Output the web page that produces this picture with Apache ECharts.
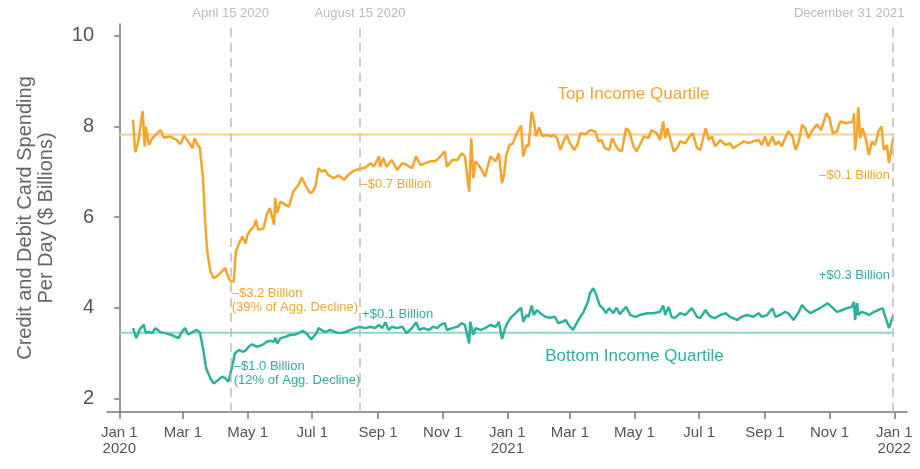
<!DOCTYPE html>
<html>
<head>
<meta charset="utf-8">
<script src="https://cdn.jsdelivr.net/npm/echarts@6/dist/echarts.min.js"></script>
<style>
html, body { margin: 0; padding: 0; background: #fff; }
#main { width: 920px; height: 469px; }
</style>
</head>
<body>
<div id="main"></div>
<script>
// [days since Jan 1 2020, spending per day ($ billions)]
var topIncome = [
  [13,8.15],[15,7.43],[18,7.67],[22,8.34],[24,7.56],[25,8.00],[28,7.59],[31,7.74],[36,7.85],[39,7.92],
  [42,7.75],[48,7.78],[54,7.70],[58,7.61],[61,7.80],[65,7.67],[69,7.52],[71,7.74],[74,7.59],[76,7.52],
  [79,6.86],[81,5.90],[83,5.24],[86,4.80],[89,4.65],[92,4.69],[95,4.76],[100,4.88],[102,4.72],[105,4.58],
  [108,4.58],[110,5.24],[113,5.42],[116,5.57],[119,5.42],[121,5.61],[124,5.72],[127,5.79],[129,5.94],[131,5.72],
  [136,5.75],[139,6.05],[142,6.20],[146,5.83],[147,6.42],[149,6.09],[152,6.34],[157,6.27],[160,6.23],[164,6.56],
  [169,6.71],[172,6.87],[177,6.64],[180,6.53],[182,6.55],[185,6.67],[188,7.08],[191,7.00],[194,7.04],[197,6.93],
  [202,6.86],[207,6.92],[212,6.82],[216,6.93],[221,7.02],[226,7.06],[232,7.09],[237,7.19],[240,7.11],[245,7.34],
  [246,7.11],[249,7.30],[252,7.11],[257,7.26],[262,7.04],[267,7.19],[271,7.15],[276,7.08],[280,7.34],[284,7.15],
  [289,7.19],[293,7.23],[298,7.23],[303,7.34],[307,7.45],[309,7.11],[314,7.26],[319,7.26],[323,7.41],[326,7.34],
  [330,6.56],[332,7.74],[334,6.86],[336,7.23],[341,7.08],[345,6.89],[350,7.34],[355,7.23],[358,7.41],[361,6.75],
  [363,6.95],[365,7.37],[368,7.59],[371,7.62],[375,7.85],[379,8.02],[381,7.34],[384,7.59],[386,7.56],[389,8.32],
  [391,8.15],[393,7.78],[396,7.98],[399,7.78],[403,7.81],[407,7.78],[410,7.81],[413,7.74],[416,7.48],[419,7.67],
  [422,7.81],[425,7.63],[429,7.48],[432,7.59],[435,7.85],[440,7.83],[444,7.92],[449,7.89],[452,7.67],[455,7.70],
  [458,7.52],[462,7.48],[465,7.74],[468,7.59],[471,7.48],[474,7.45],[478,7.96],[481,7.89],[485,7.56],[488,7.45],
  [491,7.59],[495,7.78],[499,7.74],[502,7.92],[507,7.85],[510,7.70],[513,8.11],[515,7.74],[517,7.96],[520,7.70],
  [523,7.45],[526,7.52],[529,7.67],[534,7.63],[538,7.78],[541,7.85],[545,7.52],[548,7.48],[553,7.96],[556,7.70],
  [559,7.78],[562,7.56],[567,7.70],[572,7.59],[576,7.63],[579,7.52],[584,7.59],[589,7.67],[594,7.63],[598,7.67],
  [603,7.70],[606,7.59],[609,7.78],[612,7.56],[616,7.78],[619,7.59],[622,7.67],[625,7.56],[628,7.74],[631,7.89],
  [635,7.78],[638,7.48],[641,7.67],[644,8.04],[647,7.96],[650,7.74],[653,7.89],[658,8.04],[662,7.92],[667,8.29],
  [670,8.18],[673,7.85],[677,7.89],[680,8.11],[686,8.07],[692,8.11],[693,8.29],[694,7.48],[696,7.89],[697,8.42],
  [699,7.74],[701,7.96],[704,7.74],[707,7.37],[710,7.67],[713,7.59],[716,7.89],[719,8.00],[721,7.48],[724,7.59],
  [726,7.19],[728,7.48],[730,7.74]
];
var bottomIncome = [
  [13,3.55],[16,3.33],[19,3.51],[23,3.63],[25,3.44],[28,3.47],[31,3.44],[34,3.55],[39,3.46],[43,3.44],
  [48,3.41],[53,3.36],[56,3.33],[59,3.47],[62,3.55],[65,3.41],[69,3.46],[73,3.51],[76,3.46],[79,3.10],
  [82,2.66],[86,2.44],[89,2.33],[93,2.40],[97,2.48],[100,2.44],[103,2.37],[106,2.66],[109,2.99],[113,3.07],
  [116,3.03],[119,3.05],[122,3.14],[125,3.19],[130,3.14],[135,3.18],[139,3.25],[143,3.27],[146,3.25],[147,3.34],
  [149,3.21],[152,3.33],[157,3.36],[161,3.40],[166,3.41],[171,3.46],[173,3.49],[177,3.42],[181,3.30],[186,3.44],
  [188,3.55],[194,3.46],[199,3.51],[204,3.46],[208,3.44],[213,3.46],[218,3.51],[223,3.55],[227,3.58],[232,3.55],
  [237,3.58],[241,3.55],[245,3.62],[248,3.55],[251,3.68],[254,3.51],[257,3.58],[262,3.55],[267,3.58],[271,3.44],
  [276,3.55],[280,3.68],[283,3.51],[287,3.55],[292,3.51],[296,3.58],[300,3.55],[303,3.62],[307,3.66],[309,3.51],
  [314,3.55],[319,3.58],[323,3.66],[326,3.62],[330,3.21],[331,3.69],[334,3.40],[336,3.55],[341,3.51],[345,3.55],
  [350,3.62],[355,3.58],[358,3.69],[361,3.31],[364,3.55],[366,3.66],[370,3.80],[375,3.91],[379,4.00],[381,3.69],
  [384,3.84],[386,3.80],[389,4.05],[391,3.84],[394,3.95],[397,3.88],[402,3.80],[406,3.78],[411,3.80],[414,3.66],
  [418,3.69],[421,3.73],[424,3.62],[428,3.51],[433,3.73],[438,3.91],[442,4.13],[444,4.32],[447,4.43],[450,4.28],
  [453,4.06],[456,3.99],[459,3.88],[462,3.99],[466,3.88],[469,4.00],[472,3.86],[478,4.02],[482,3.84],[487,3.80],
  [491,3.84],[498,3.88],[504,3.88],[510,3.91],[513,4.05],[515,3.84],[518,4.02],[521,3.80],[524,3.77],[529,3.88],
  [534,3.84],[540,3.99],[545,3.80],[548,3.77],[553,3.95],[556,3.84],[558,3.80],[562,3.77],[567,3.84],[572,3.88],
  [576,3.80],[583,3.73],[587,3.80],[592,3.84],[598,3.80],[603,3.88],[606,3.80],[611,3.84],[616,3.99],[619,3.80],
  [623,3.84],[628,3.91],[631,3.88],[636,3.73],[641,3.91],[644,4.06],[648,3.95],[652,3.88],[656,3.93],[661,3.99],
  [668,4.10],[672,4.02],[677,3.91],[682,3.95],[686,3.99],[691,4.02],[693,4.13],[694,3.73],[696,4.10],[697,3.84],
  [700,3.91],[704,3.88],[707,3.84],[712,3.91],[716,3.95],[720,3.99],[723,3.77],[726,3.55],[728,3.69],[730,3.84]
];
// January 2020 averages
var baselineTop = 7.82;
var baselineBottom = 3.45;

// x axis: days since Jan 1 2020
var tickDays = [0, 60, 121, 182, 244, 305, 366, 425, 486, 547, 609, 670, 731];
var tickLabels = ['Jan 1\n2020', 'Mar 1', 'May 1', 'Jul 1', 'Sep 1', 'Nov 1', 'Jan 1\n2021',
                  'Mar 1', 'May 1', 'Jul 1', 'Sep 1', 'Nov 1', 'Jan 1\n2022'];
var yTicks = [2, 4, 6, 8, 10];
var eventDays = [105, 227, 730];
var eventLabels = ['April 15 2020', 'August 15 2020', 'December 31 2021'];

var ORANGE = '#F6A52B', TEAL = '#2BB29D';

var labelOf = {};
tickDays.forEach(function (d, i) { labelOf[d] = tickLabels[i]; });

function note(d, v, text, color, align, size) {
    return {
        coord: [d, v],
        label: { formatter: text, color: color, align: align, fontSize: size || 13 }
    };
}

var myChart = echarts.init(document.getElementById('main'));
myChart.setOption({
    animation: false,
    textStyle: { fontFamily: 'Liberation Sans, Arial, sans-serif' },
    grid: { left: 107, right: 13, top: 24, bottom: 57 },
    xAxis: {
        type: 'value',
        min: -11.6,
        max: 743,
        splitLine: { show: false },
        axisLine: { lineStyle: { color: '#777', width: 1.5 } },
        axisTick: { show: true, length: 7, lineStyle: { color: '#777', width: 1.5 },
                    customValues: tickDays },
        axisLabel: {
            customValues: tickDays,
            formatter: function (v) { return labelOf[v] || ''; },
            color: '#555', fontSize: 15, lineHeight: 16, margin: 13
        }
    },
    yAxis: {
        type: 'value',
        min: 1.7,
        max: 10.26,
        name: 'Credit and Debit Card Spending\nPer Day ($ Billions)',
        nameLocation: 'middle',
        nameGap: 50,
        nameTextStyle: { color: '#666', fontSize: 20, lineHeight: 21 },
        splitLine: { show: false },
        axisLine: { show: true, lineStyle: { color: '#777', width: 1.5 } },
        axisTick: { show: true, length: 5, lineStyle: { color: '#777', width: 1.5 },
                    customValues: yTicks },
        axisLabel: { customValues: yTicks, color: '#555', fontSize: 20, margin: 13 }
    },
    series: [
        {   // 基准线（顶部）
            type: 'line', z: 1, silent: true, showSymbol: false,
            data: [[0, baselineTop], [730, baselineTop]],
            lineStyle: { color: '#FBCD92', width: 2 },
            markLine: {
                silent: true, symbol: ['none', 'none'],
                lineStyle: { color: '#bdbdbd', type: [9, 6], width: 1.5 },
                label: { position: 'end', color: '#bbb', fontSize: 13, distance: 4 },
                data: eventDays.map(function (d, i) {
                    var item = { xAxis: d, label: { formatter: eventLabels[i] } };
                    if (i === eventDays.length - 1) item.label.offset = [-44, 0];
                    return item;
                })
            }
        },
        {   // 基准线（底部）
            type: 'line', z: 1, silent: true, showSymbol: false,
            data: [[0, baselineBottom], [730, baselineBottom]],
            lineStyle: { color: '#8FD6C9', width: 2 }
        },
        {
            name: 'Top Income Quartile',
            type: 'line', z: 3, showSymbol: false,
            data: topIncome,
            lineStyle: { color: ORANGE, width: 2.5 },
            itemStyle: { color: ORANGE },
            markPoint: {
                symbol: 'rect', symbolSize: 1, silent: true,
                itemStyle: { color: 'rgba(0,0,0,0)' },
                label: { show: true, position: 'inside', verticalAlign: 'middle', lineHeight: 14 },
                data: [
                    note(485, 8.70, 'Top Income Quartile', ORANGE, 'center', 17),
                    note(227.5, 6.73, '–$0.7 Billion', ORANGE, 'left'),
                    note(106, 4.17, '–$3.2 Billion\n(39% of Agg. Decline)', ORANGE, 'left'),
                    note(727, 6.91, '–$0.1 Billion', ORANGE, 'right')
                ]
            }
        },
        {
            name: 'Bottom Income Quartile',
            type: 'line', z: 3, showSymbol: false,
            data: bottomIncome,
            lineStyle: { color: TEAL, width: 2.5 },
            itemStyle: { color: TEAL },
            markPoint: {
                symbol: 'rect', symbolSize: 1, silent: true,
                itemStyle: { color: 'rgba(0,0,0,0)' },
                label: { show: true, position: 'inside', verticalAlign: 'middle', lineHeight: 14 },
                data: [
                    note(486, 2.92, 'Bottom Income Quartile', TEAL, 'center', 17),
                    note(229, 3.86, '+$0.1 Billion', TEAL, 'left'),
                    note(108, 2.56, '–$1.0 Billion\n(12% of Agg. Decline)', TEAL, 'left'),
                    note(727, 4.72, '+$0.3 Billion', TEAL, 'right')
                ]
            }
        }
    ]
});
</script>
</body>
</html>
